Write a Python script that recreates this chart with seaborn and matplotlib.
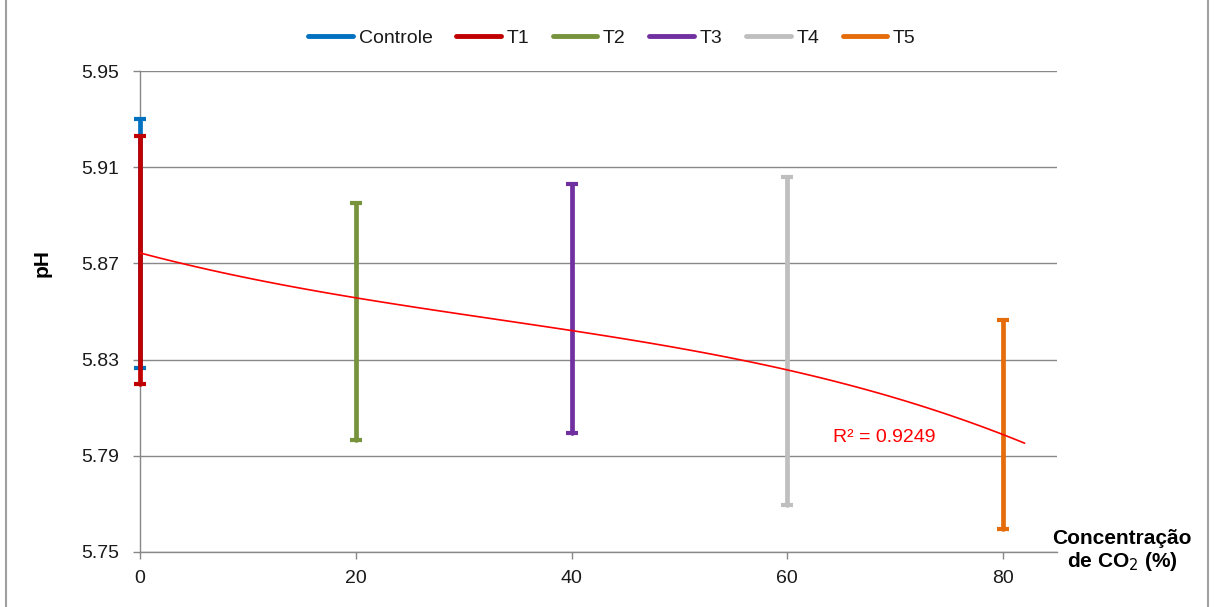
import numpy as np
import pandas as pd
import matplotlib
matplotlib.use("Agg")
import matplotlib.pyplot as plt
from matplotlib.lines import Line2D
import seaborn as sns

# ---- data ----
series = ["Controle", "T1", "T2", "T3", "T4", "T5"]
conc = [0, 0, 20, 40, 60, 80]
ph_max = [5.930, 5.923, 5.895, 5.903, 5.906, 5.8465]
ph_min = [5.8265, 5.820, 5.7966, 5.7995, 5.7695, 5.7596]
colors = ["#0070C0", "#C00000", "#77933C", "#7030A0", "#BFBFBF", "#E46C0A"]

trend_x = [0, 20, 33.4, 40, 60, 80, 82]
trend_y = [5.8743, 5.8560, 5.8462, 5.8420, 5.8259, 5.7987, 5.7953]
r2_text = "R² = 0.9249"

y_ticks = [5.75, 5.79, 5.83, 5.87, 5.91, 5.95]
x_ticks = [0, 20, 40, 60, 80]

sns.set_theme(style="white")
plt.rcParams["font.family"] = ["Liberation Sans", "DejaVu Sans"]

fig = plt.figure(figsize=(12.15, 6.07), dpi=100)
ax = fig.add_axes([140 / 1215, 1 - 552 / 607, (1057 - 140) / 1215, (552 - 71) / 607])

grid_c = "#888888"
for yt in y_ticks:
    ax.axhline(yt, color=grid_c, lw=1.0, zorder=0)

# trend line (cubic polynomial, as in the original)
sns.regplot(x=trend_x, y=trend_y, order=3, ci=None, scatter=False, truncate=True,
            ax=ax, line_kws=dict(color="#FF0000", lw=1.2, zorder=6))

# range bars
df = pd.DataFrame({"series": series, "conc": conc, "hi": ph_max, "lo": ph_min})
for i, r in df.iterrows():
    mid = (r.hi + r.lo) / 2
    half = (r.hi - r.lo) / 2
    cont = ax.errorbar([r.conc], [mid], yerr=[[half], [half]], fmt="none",
                       ecolor=colors[i], elinewidth=3.4, capsize=4.0, capthick=3.0,
                       zorder=3 + i * 0.1)
    for art in cont.get_children():
        art.set_clip_on(False)
        try:
            art.set_capstyle("round")
        except Exception:
            pass

ax.set_xlim(0, 85)
ax.set_ylim(5.75, 5.95)
ax.set_xticks(x_ticks)
ax.set_xticklabels([str(v) for v in x_ticks])
ax.set_yticks(y_ticks)
ax.set_yticklabels([f"{v:.2f}" for v in y_ticks])

for s in ["top", "right"]:
    ax.spines[s].set_visible(False)
for s in ["left", "bottom"]:
    ax.spines[s].set_color(grid_c)
    ax.spines[s].set_linewidth(1.0)
    ax.spines[s].set_zorder(0.5)

ax.tick_params(axis="both", which="major", colors=grid_c, labelcolor="#1a1a1a",
               labelsize=14, length=5, width=1.0)
ax.tick_params(axis="y", direction="out", left=True, pad=10)
ax.tick_params(axis="x", direction="out", bottom=True, pad=8)
ax.set_xlabel("")
ax.set_ylabel("")

fig.text(42 / 1215, 1 - 263 / 607, "pH", rotation=90, fontsize=15, fontweight="bold",
         ha="center", va="center", color="#000000")
fig.text(1122 / 1215, 1 - 551 / 607, "Concentração\nde CO$_2$ (%)", fontsize=15,
         fontweight="bold", ha="center", va="center", color="#000000",
         linespacing=1.1)

ax.text(69.0, 5.7978, r2_text, color="#FF0000", fontsize=14, ha="center", va="center")

handles = [Line2D([0], [0], color=c, lw=3.5) for c in colors]
fig.legend(handles, series, loc="center", bbox_to_anchor=(612 / 1215, 1 - 38 / 607),
           ncol=6, frameon=False, fontsize=14, handlelength=2.3, handletextpad=0.3,
           columnspacing=1.2, labelcolor="#1a1a1a")

# outer chart frame
fig.add_artist(Line2D([6 / 1215, 6 / 1215], [0, 1], transform=fig.transFigure,
                      color="#A0A0A0", lw=1.5))
fig.add_artist(Line2D([1208 / 1215, 1208 / 1215], [0, 1], transform=fig.transFigure,
                      color="#A0A0A0", lw=1.5))

fig.savefig("out.png", dpi=100, facecolor="white")
